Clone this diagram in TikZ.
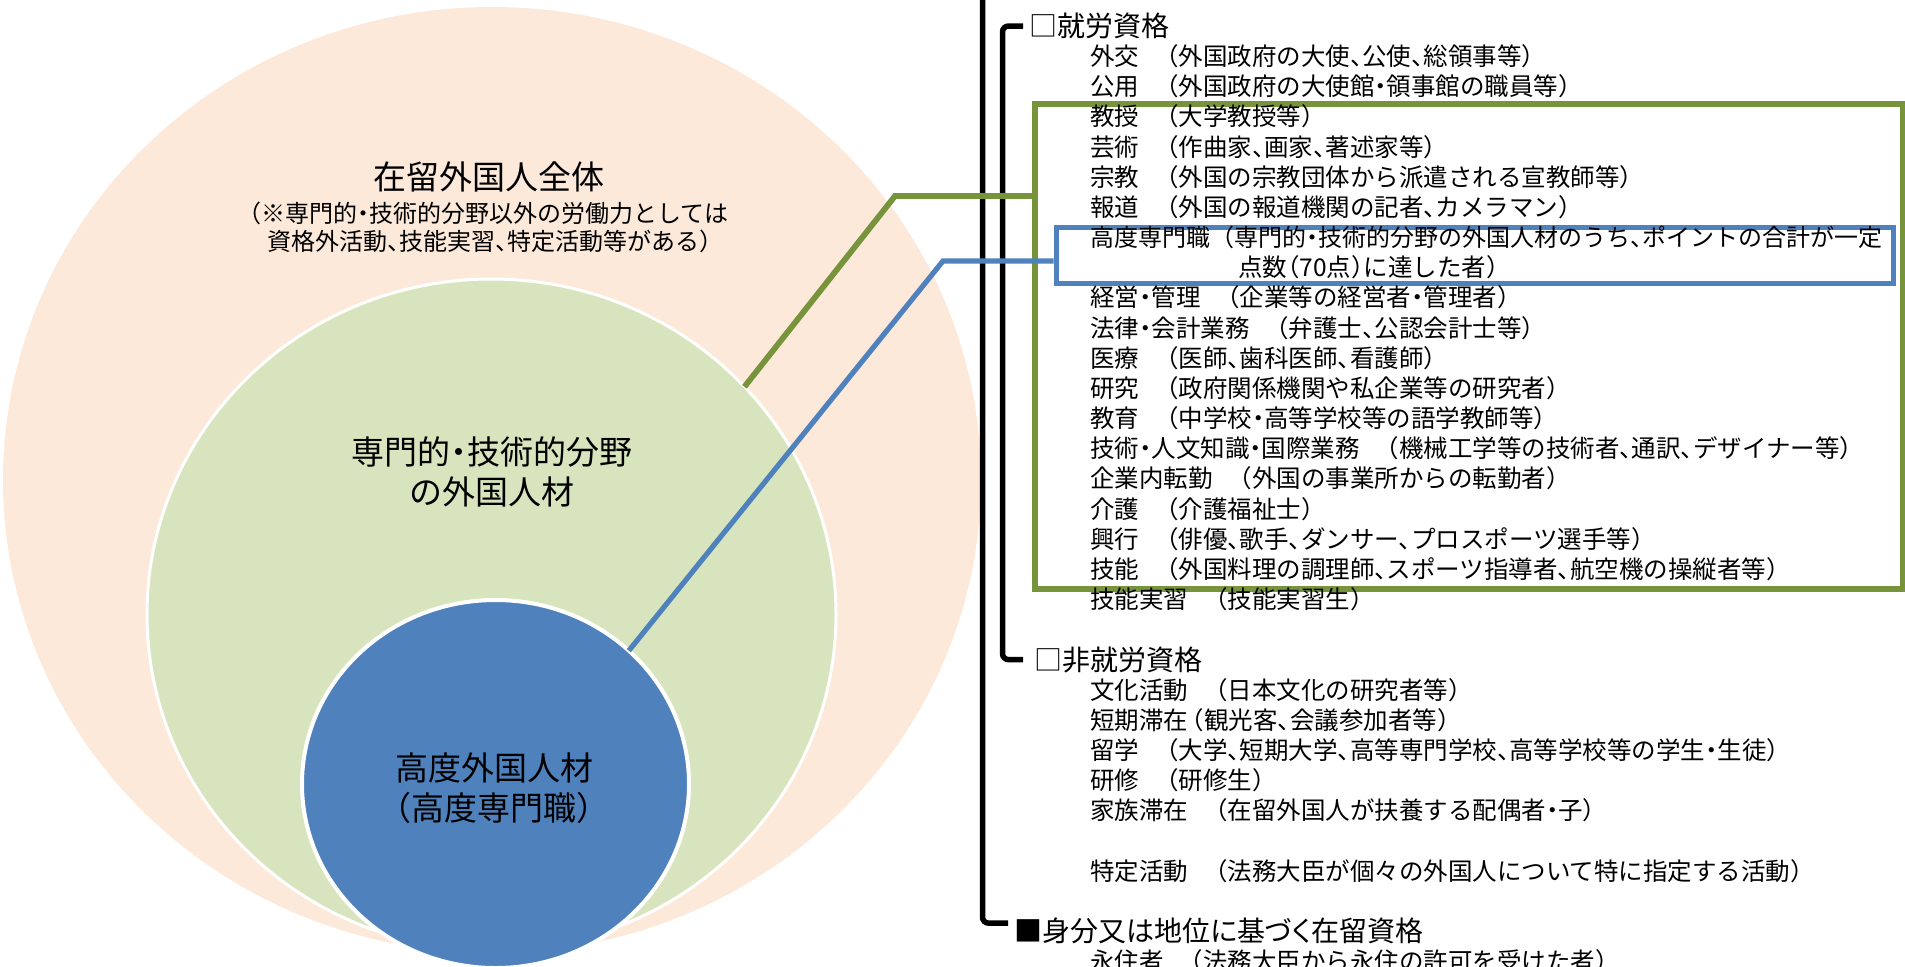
\documentclass[tikz,border=0pt]{standalone}
\usepackage{fontspec}
\setmainfont{Noto Sans CJK JP}[RawFeature={+halt}]
\newfontfamily\pfont{Noto Sans CJK JP}[RawFeature={+palt}]
\usetikzlibrary{shapes.geometric,calc}
\definecolor{peach}{HTML}{FCE9DA}
\definecolor{lgreen}{HTML}{D7E4BD}
\definecolor{mblue}{HTML}{4F81BD}
\definecolor{ogreen}{HTML}{77933C}
\newcommand{\gp}{\hspace{1.1em}}
\begin{document}
\begin{tikzpicture}[x=0.5pt,y=-0.5pt,
 ell/.style={ellipse,inner sep=0pt,outer sep=0pt},
 itm/.style={anchor=west,inner sep=0pt,font=\fontsize{12.25pt}{14pt}\selectfont,text height=10.8pt,text depth=1.5pt},
 hdr/.style={itm,font=\fontsize{14pt}{16pt}\selectfont,text height=12.3pt,text depth=1.7pt},
 bigtxt/.style={align=center,inner sep=0pt,font=\fontsize{16.5pt}{20pt}\selectfont},
 notetxt/.style={align=center,inner sep=0pt,font=\fontsize{12pt}{14pt}\selectfont},
 brk/.style={line width=2.75pt,rounded corners=3pt},
 gline/.style={draw=ogreen,line width=2.9pt},
 bline/.style={draw=mblue,line width=2.6pt}]
\useasboundingbox (0,0) rectangle (1905,966);
% ellipses
\node[ell,fill=peach,minimum width=489pt,minimum height=473pt] (oell) at (492,480) {};
\node[ell,fill=lgreen,draw=white,line width=1.5pt,minimum width=344.5pt,minimum height=335.5pt] (gell) at (491.5,614.5) {};
\node[ell,fill=mblue,draw=white,line width=2pt,minimum width=193.5pt,minimum height=184pt] (bell) at (495.5,784) {};
% ellipse texts
\node[bigtxt] (t1) at (489,177) {在留外国人全体};
\node[notetxt] (t2) at (489,227) {（※専門的・技術的分野以外の労働力としては\\資格外活動、技能実習、特定活動等がある）};
\node[bigtxt] (t3) at (492,472) {専門的・技術的分野\\の外国人材};
\node[bigtxt] (t4) at (494,788) {高度外国人材\\（高度専門職）};
% boxes
\node[draw=ogreen,line width=2.75pt,minimum width=434pt,minimum height=242.5pt,inner sep=0pt] (gbox) at (1469,346.5) {};
\node[draw=mblue,line width=2.5pt,minimum width=418.5pt,minimum height=28pt,inner sep=0pt] (bbox) at (1474.5,255) {};
% list
\node[hdr] (h0) at (1029,26) {□就労資格};
\node[itm] (r1) at (1090,56.2) {外交\gp（外国政府の大使、公使、総領事等）};
\node[itm] (r2) at (1090,86.3) {公用\gp（外国政府の大使館・領事館の職員等）};
\node[itm] (r3) at (1090,116.5) {教授\gp（大学教授等）};
\node[itm] (r4) at (1090,146.7) {芸術\gp（作曲家、画家、著述家等）};
\node[itm] (r5) at (1090,176.9) {宗教\gp（外国の宗教団体から派遣される宣教師等）};
\node[itm] (r6) at (1090,207.0) {報道\gp（外国の報道機関の記者、カメラマン）};
\node[itm,font=\fontsize{12pt}{14pt}\selectfont] (r7) at (1090,237.2) {高度専門職\hspace{0.5em}（専門的・技術的分野の外国人材のうち、ポイントの合計が一定};
\node[itm] (r8) at (1238,267.4) {点数（70点）に達した者）};
\node[itm] (r9) at (1090,297.5) {経営・管理\gp（企業等の経営者・管理者）};
\node[itm] (r10) at (1090,327.7) {法律・会計業務\gp（弁護士、公認会計士等）};
\node[itm] (r11) at (1090,357.9) {医療\gp（医師、歯科医師、看護師）};
\node[itm] (r12) at (1090,388.0) {研究\gp（政府関係機関や私企業等の研究者）};
\node[itm] (r13) at (1090,418.2) {教育\gp（中学校・高等学校等の語学教師等）};
\node[itm] (r14) at (1090,448.4) {技術・人文知識・国際業務\gp（機械工学等の技術者、通訳、デザイナー等）};
\node[itm] (r15) at (1090,478.6) {企業内転勤\gp（外国の事業所からの転勤者）};
\node[itm] (r16) at (1090,508.7) {介護\gp（介護福祉士）};
\node[itm] (r17) at (1090,538.9) {興行\gp（俳優、歌手、ダンサー、プロスポーツ選手等）};
\node[itm] (r18) at (1090,569.1) {技能\gp（外国料理の調理師、スポーツ指導者、航空機の操縦者等）};
\node[itm] (r19) at (1090,599.2) {技能実習\gp（技能実習生）};
\node[hdr] (h21) at (1034,659.6) {□非就労資格};
\node[itm] (r22) at (1090,689.7) {文化活動\gp（日本文化の研究者等）};
\node[itm] (r23) at (1090,719.9) {短期滞在\hspace{0.15em}（観光客、会議参加者等）};
\node[itm] (r24) at (1090,750.1) {留学\gp（大学、短期大学、高等専門学校、高等学校等の学生・生徒）};
\node[itm] (r25) at (1090,780.3) {研修\gp（研修生）};
\node[itm] (r26) at (1090,810.4) {家族滞在\gp（在留外国人が扶養する配偶者・子）};
\node[itm] (r28) at (1090,870.8) {特定活動\gp（法務大臣が個々の外国人について特に指定する活動）};
\node[hdr,font=\pfont\fontsize{14pt}{16pt}\selectfont] (h30) at (1014,931.1) {■身分又は地位に基づく在留資格};
\node[itm] (r31) at (1090,961.3) {永住者\gp（法務大臣から永住の許可を受けた者）};
% brackets
\coordinate (ib) at (1002.5,0);
\coordinate (otop) at (982.5,-20);
\draw[brk] ($(h0.west)+(-6,0)$) -| (ib |- h21.west) -- ($(h21.west)+(-11,0)$);
\draw[brk] (otop) |- ($(h30.west)+(-6,-8)$);
% connectors
\coordinate (gk) at (895,196);
\coordinate (bk) at (943,261);
\draw[gline] (gell.42) -- (gk) -- (gk -| gbox.west);
\draw[bline] (bell.45) -- (bk) -- (bk -| bbox.west);
\end{tikzpicture}
\end{document}
